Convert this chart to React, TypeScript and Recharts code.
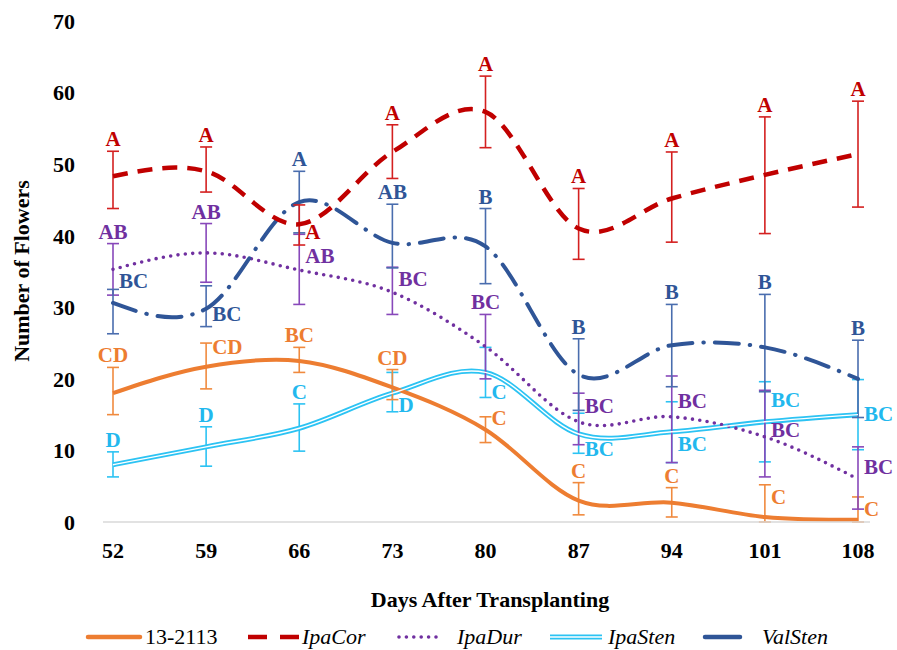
import React from 'react';
import { LineChart, Line, XAxis, YAxis, ErrorBar } from 'recharts';

if (typeof document !== 'undefined') document.body.style.margin = '0';

const FONT = '"Liberation Serif", "Times New Roman", serif';

const days = [52, 59, 66, 73, 80, 87, 94, 101, 108];
const yTicks = [0, 10, 20, 30, 40, 50, 60, 70];

// 13-2113
const v13 = [18.0, 21.7, 22.5, 18.8, 12.9, 3.0, 2.7, 0.7, 0.3];
const top13 = [21.6, 25.0, 24.4, 21.3, 14.7, 5.5, 4.8, 5.2, 3.5];
const bot13 = [15.0, 18.6, 20.9, 17.1, 11.1, 1.0, 0.7, 0.0, 0.0];
const let13 = ['CD', 'CD', 'BC', 'CD', 'C', 'C', 'C', 'C', 'C'];

// IpaCor
const vCor = [48.3, 49.0, 41.6, 51.7, 57.3, 41.0, 45.2, 48.5, 51.4];
const topCor = [51.8, 52.4, 44.3, 55.5, 62.3, 46.6, 51.7, 56.6, 58.8];
const botCor = [43.8, 46.1, 38.7, 48.0, 52.3, 36.7, 39.1, 40.3, 44.0];
const letCor = ['A', 'A', 'A', 'A', 'A', 'A', 'A', 'A', 'A'];

// IpaDur
const vDur = [35.3, 37.6, 35.2, 32.1, 24.5, 14.0, 14.7, 11.9, 6.0];
const topDur = [38.9, 41.7, 40.2, 35.6, 29.0, 18.0, 20.4, 18.4, 10.5];
const botDur = [31.7, 33.5, 30.4, 29.0, 20.0, 10.8, 8.3, 6.3, 1.8];
const letDur = ['AB', 'AB', 'AB', 'BC', 'BC', 'BC', 'BC', 'BC', 'BC'];

// IpaSten
const vSten = [8.0, 10.5, 13.1, 18.0, 20.9, 12.3, 12.6, 14.0, 15.0];
const topSten = [9.8, 13.3, 16.5, 20.9, 24.4, 15.2, 16.8, 19.6, 19.9];
const botSten = [6.3, 7.8, 9.9, 15.4, 17.4, 9.6, 8.3, 8.4, 10.1];
const letSten = ['D', 'D', 'C', 'D', 'C', 'BC', 'BC', 'BC', 'BC'];

// ValSten
const vVal = [30.6, 29.8, 44.7, 39.0, 38.5, 20.6, 24.7, 24.4, 20.0];
const topVal = [32.5, 33.0, 49.0, 44.4, 43.8, 25.6, 30.4, 31.8, 25.4];
const botVal = [26.3, 27.3, 40.4, 35.5, 33.3, 15.6, 18.9, 18.2, 14.6];
const letVal = ['BC', 'BC', 'A', 'AB', 'B', 'B', 'B', 'B', 'B'];

// label layout: null = above the error bar, number = to the right (px offset from point)
const dy13 = [null, -20, null, null, -12, null, null, -20, -11];
const dyCor = [null, null, 8, null, null, null, null, null, null];
const dyDur = [null, null, -14, -13, null, -16, -16, -7, -12];
const dySten = [null, null, null, 12, 20, 15, 12, -22, -1];
const dyVal = [-22, 5, null, null, null, null, null, null, null];

type S = {
  key: string; name: string; italic: boolean; values: number[]; tops: number[]; bots: number[];
  letters: string[]; dy: (number | null)[]; color: string; errColor: string; labelColor: string;
  width: number; dash?: string; cap?: 'round' | 'butt';
};

const series: S[] = [
  { key: 'sten', name: 'IpaSten', italic: true, values: vSten, tops: topSten, bots: botSten, letters: letSten, dy: dySten, color: '#2CC3F3', errColor: '#2CC3F3', labelColor: '#22B8EE', width: 5 },
  { key: 's13', name: '13-2113', italic: false, values: v13, tops: top13, bots: bot13, letters: let13, dy: dy13, color: '#ED7D31', errColor: '#F08A3E', labelColor: '#ED7D31', width: 4 },
  { key: 'dur', name: 'IpaDur', italic: true, values: vDur, tops: topDur, bots: botDur, letters: letDur, dy: dyDur, color: '#7030A0', errColor: '#8848BA', labelColor: '#7030A0', width: 3.6, dash: '0 7.4', cap: 'round' },
  { key: 'val', name: 'ValSten', italic: true, values: vVal, tops: topVal, bots: botVal, letters: letVal, dy: dyVal, color: '#2F5597', errColor: '#4A6DAE', labelColor: '#2F5597', width: 4, dash: '24 11 0.5 11', cap: 'round' },
  { key: 'cor', name: 'IpaCor', italic: true, values: vCor, tops: topCor, bots: botCor, letters: letCor, dy: dyCor, color: '#C00000', errColor: '#D42020', labelColor: '#C00000', width: 4.5, dash: '15 10' },
];

const data = days.map((d, i) => {
  const row: any = { day: d };
  series.forEach((s) => {
    row[s.key] = s.values[i];
    row[s.key + 'Top'] = s.tops[i];
    row[s.key + 'Err'] = [s.values[i] - s.bots[i], s.tops[i] - s.values[i]];
  });
  return row;
});

// Smooth curve like a spreadsheet "smoothed line": Catmull-Rom Bezier inside, natural ends
const smoothCurve: any = (context: any) => {
  let pts: number[][] = [];
  return {
    areaStart() {}, areaEnd() {},
    lineStart() { pts = []; },
    point(x: number, y: number) { pts.push([+x, +y]); },
    lineEnd() {
      const n = pts.length;
      if (!n) return;
      context.moveTo(pts[0][0], pts[0][1]);
      if (n < 3) {
        for (let i = 1; i < n; i++) context.lineTo(pts[i][0], pts[i][1]);
        return;
      }
      const tan = (i: number): number[] => {
        if (i === 0) {
          const a = pts[0], b = pts[1], c = pts[2];
          return [1.5 * (b[0] - a[0]) - 0.25 * (c[0] - a[0]), 1.5 * (b[1] - a[1]) - 0.25 * (c[1] - a[1])];
        }
        if (i === n - 1) {
          const a = pts[n - 1], b = pts[n - 2], c = pts[n - 3];
          return [1.5 * (a[0] - b[0]) - 0.25 * (a[0] - c[0]), 1.5 * (a[1] - b[1]) - 0.25 * (a[1] - c[1])];
        }
        return [(pts[i + 1][0] - pts[i - 1][0]) / 2, (pts[i + 1][1] - pts[i - 1][1]) / 2];
      };
      for (let i = 0; i < n - 1; i++) {
        const p1 = pts[i];
        const p2 = pts[i + 1];
        const m1 = tan(i);
        const m2 = tan(i + 1);
        context.bezierCurveTo(
          p1[0] + m1[0] / 3, p1[1] + m1[1] / 3,
          p2[0] - m2[0] / 3, p2[1] - m2[1] / 3,
          p2[0], p2[1]
        );
      }
    },
  };
};

const tickStyle = { fontFamily: FONT, fontSize: 22, fontWeight: 'bold', fill: '#000' };

const topLabel = (s: S) => (p: any) => {
  const i = p.index;
  if (s.dy[i] !== null) return <g key={`t${s.key}${i}`} />;
  return (
    <text key={`t${s.key}${i}`} x={p.x} y={p.y - 5} textAnchor="middle" fontFamily={FONT} fontSize={21} fontWeight="bold" fill={s.labelColor}>
      {s.letters[i]}
    </text>
  );
};

const sideLabel = (s: S) => (p: any) => {
  const i = p.index;
  const d = s.dy[i];
  if (d === null) return <g key={`r${s.key}${i}`} />;
  return (
    <text key={`r${s.key}${i}`} x={p.x + 6} y={p.y + d + 7} textAnchor="start" fontFamily={FONT} fontSize={21} fontWeight="bold" fill={s.labelColor}>
      {s.letters[i]}
    </text>
  );
};

const legendOrder = ['s13', 'cor', 'dur', 'sten', 'val'];
const legendPos = [[88, 140, 145], [248, 300, 302], [397, 442, 457], [550, 602, 608], [705, 740, 762]];

export default function App() {
  return (
    <div style={{ position: 'relative', width: 897, height: 650, background: '#fff' }}>
      <LineChart width={897} height={650} data={data} margin={{ top: 21, right: 27, left: 0, bottom: 98 }}>
        <XAxis dataKey="day" height={30} padding={{ left: 10, right: 12 }} interval={0}
          axisLine={{ stroke: '#D9D9D9', strokeWidth: 1.5 }} tickLine={false} tickSize={0} tickMargin={20} tick={tickStyle} />
        <YAxis width={103} domain={[0, 70]} ticks={yTicks} allowDataOverflow interval={0}
          axisLine={false} tickLine={false} tickSize={0} tickMargin={28} tick={tickStyle} />
        {series.map((s) => (
          <Line key={s.key} dataKey={s.key} type={smoothCurve} stroke={s.color} strokeWidth={s.width}
            strokeDasharray={s.dash} strokeLinecap={s.cap || 'butt'} dot={false} activeDot={false}
            isAnimationActive={false} label={sideLabel(s)}>
            <ErrorBar dataKey={s.key + 'Err'} width={6} strokeWidth={1.6} stroke={s.errColor} direction="y" isAnimationActive={false} />
          </Line>
        ))}
        <Line key="stenInner" dataKey="sten" type={smoothCurve} stroke="#FFFFFF" strokeWidth={1.4}
          dot={false} activeDot={false} isAnimationActive={false} legendType="none" />
        {series.map((s) => (
          <Line key={s.key + 'T'} dataKey={s.key + 'Top'} type="linear" stroke="none" dot={false} activeDot={false}
            isAnimationActive={false} legendType="none" label={topLabel(s)} />
        ))}
      </LineChart>
      <svg width={897} height={650} style={{ position: 'absolute', left: 0, top: 0, pointerEvents: 'none' }}>
        <text transform="translate(29,271) rotate(-90)" textAnchor="middle" fontFamily={FONT} fontSize={22} fontWeight="bold" fill="#000">
          Number of Flowers
        </text>
        <text x={490} y={607} textAnchor="middle" fontFamily={FONT} fontSize={22} fontWeight="bold" fill="#000">
          Days After Transplanting
        </text>
        {legendOrder.map((k, j) => {
          const s = series.find((q) => q.key === k)!;
          const [x1, x2, tx] = legendPos[j];
          const y = 637;
          return (
            <g key={k}>
              {k === 'sten' ? (
                <g>
                  <line x1={x1} x2={x2} y1={y} y2={y} stroke={s.color} strokeWidth={5} />
                  <line x1={x1} x2={x2} y1={y} y2={y} stroke="#fff" strokeWidth={1.4} />
                </g>
              ) : k === 'cor' ? (
                <line x1={x1} x2={x2} y1={y} y2={y} stroke={s.color} strokeWidth={4.5} strokeDasharray="19 13" />
              ) : k === 'dur' ? (
                <line x1={x1 + 2} x2={x2} y1={y} y2={y} stroke={s.color} strokeWidth={3.6} strokeDasharray="0 7.4" strokeLinecap="round" />
              ) : (
                <line x1={x1} x2={x2} y1={y} y2={y} stroke={s.color} strokeWidth={4.5} strokeLinecap="round" />
              )}
              <text x={tx} y={644} fontFamily={FONT} fontSize={22} fontStyle={s.italic ? 'italic' : 'normal'} fill="#000">
                {s.name}
              </text>
            </g>
          );
        })}
      </svg>
    </div>
  );
}
